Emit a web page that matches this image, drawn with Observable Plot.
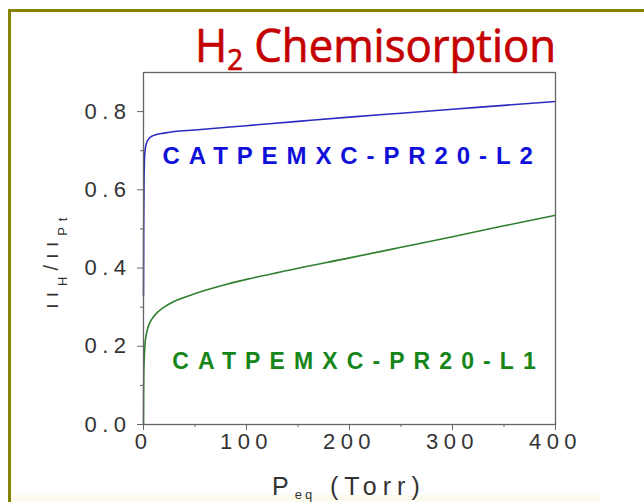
<!DOCTYPE html>
<html><head><meta charset="utf-8">
<script src="https://cdn.jsdelivr.net/npm/d3@7"></script>
<script src="https://cdn.jsdelivr.net/npm/@observablehq/plot@0.6"></script>
<style>
html,body{margin:0;padding:0;background:#fff;}
#wrap{position:relative;width:644px;height:502px;overflow:hidden;background:#fff;}
#border{position:absolute;left:8px;top:9px;right:-10px;bottom:-10px;border-top:3px solid #848400;border-left:3px solid #848400;pointer-events:none;}
#band{position:absolute;left:11px;top:495px;width:590px;height:7px;background:#fdfbee;}
#chart{position:absolute;left:0;top:0;}
</style></head><body>
<div id="wrap"><div id="band"></div><div id="chart"></div><div id="border"></div></div>
<script>
// Data
const pressureL2 = [0, 0.2, 0.5, 1, 1.5, 2, 3, 4, 6, 8, 12, 20, 30, 50, 100, 150, 200, 250, 300, 350, 400];
const ratioL2    = [0.33, 0.5, 0.62, 0.68, 0.70, 0.71, 0.72, 0.726, 0.733, 0.737, 0.741, 0.745, 0.749, 0.753, 0.764, 0.775, 0.786, 0.796, 0.806, 0.816, 0.826];
const pressureL1 = [0, 0.1, 0.3, 0.6, 1, 1.6, 2.5, 4, 6, 9, 14, 20, 30, 45, 60, 80, 100, 133, 200, 250, 300, 350, 400];
const ratioL1    = [0.0, 0.08, 0.13, 0.16, 0.185, 0.21, 0.227, 0.245, 0.26, 0.273, 0.288, 0.30, 0.315, 0.33, 0.343, 0.358, 0.371, 0.39, 0.426, 0.453, 0.48, 0.508, 0.535];
const seriesNames = ["CATPEMXC-PR20-L2", "CATPEMXC-PR20-L1"];
const labelP = [18.4, 27.9];
const labelRatio = [0.6865, 0.161];
const xMajorTicks = [0, 100, 200, 300, 400];
const xMinorTicks = [50, 150, 250, 350];
const yMajorTicks = [0.0, 0.2, 0.4, 0.6, 0.8];
const yMinorTicks = [0.1, 0.3, 0.5, 0.7];
const titleText = "H₂ Chemisorption";

const l2 = pressureL2.map((p, i) => ({p, v: ratioL2[i]}));
const l1 = pressureL1.map((p, i) => ({p, v: ratioL1[i]}));

const FONT = "'Liberation Sans', Arial, Helvetica, sans-serif";
const BLUE_LINE = "#2b2bc4", GREEN_LINE = "#2f7f2f";
const BLUE_TXT = "#1010d8", GREEN_TXT = "#17861a";

const svg = Plot.plot({
  width: 644, height: 502,
  marginLeft: 143, marginRight: 89, marginTop: 72, marginBottom: 78,
  style: {background: "transparent", fontFamily: FONT},
  x: {domain: [0, 400]},
  y: {domain: [0, 0.9]},
  marks: [
    Plot.line(l1, {x: "p", y: "v", stroke: GREEN_LINE, strokeWidth: 1.6, curve: "monotone-x"}),
    Plot.line(l2, {x: "p", y: "v", stroke: BLUE_LINE, strokeWidth: 1.6, curve: "monotone-x"}),
    Plot.frame({stroke: "#646464", strokeWidth: 1.3}),
    Plot.axisX(xMajorTicks, {tickSize: 6, tickPadding: 3, stroke: "#666", fill: "#333", fontSize: 22, fontFamily: FONT, label: null, tickFormat: d3.format("d")}),
    Plot.axisX(xMinorTicks, {tickSize: 3, stroke: "#666", tickFormat: () => "", label: null}),
    Plot.axisY(yMajorTicks, {tickSize: 6, tickPadding: 6, stroke: "#666", fill: "#333", fontSize: 22, fontFamily: FONT, label: null, tickFormat: d3.format(".1f")}),
    Plot.axisY(yMinorTicks, {tickSize: 3, stroke: "#666", tickFormat: () => "", label: null}),
    Plot.text([0], {x: () => labelP[0], y: () => labelRatio[0], text: () => seriesNames[0], textAnchor: "start", fill: BLUE_TXT, fontSize: 24, fontWeight: "bold", fontFamily: FONT}),
    Plot.text([1], {x: () => labelP[1], y: () => labelRatio[1], text: () => seriesNames[1], textAnchor: "start", fill: GREEN_TXT, fontSize: 23, fontWeight: "bold", fontFamily: FONT})
  ]
});

const s = d3.select(svg);
s.selectAll('g[aria-label="x-axis tick label"], g[aria-label="y-axis tick label"]').attr("letter-spacing", "5.5px");
s.selectAll("text").filter(function() { return this.textContent === seriesNames[0]; }).attr("letter-spacing", "8.9px");
s.selectAll("text").filter(function() { return this.textContent === seriesNames[1]; }).attr("letter-spacing", "9.1px");

// Title
const t = s.append("text")
  .attr("x", 195).attr("y", 62)
  .attr("text-anchor", "start")
  .attr("fill", "#c40000").attr("stroke", "#c40000").attr("stroke-width", 0.7)
  .attr("font-family", "'Open Sans', 'Noto Sans', sans-serif")
  .attr("font-size", 46)
  .attr("textLength", 361).attr("lengthAdjust", "spacingAndGlyphs");
t.append("tspan").text(titleText[0]);
t.append("tspan").attr("dy", 8).attr("font-size", 29).text(titleText[1].replace("₂", "2"));
t.append("tspan").attr("dy", -8).text(titleText.slice(2));

// x axis label
const xl = s.append("text").attr("x", 272).attr("y", 495).attr("text-anchor", "start")
  .attr("fill", "#333").attr("font-family", FONT).attr("font-size", 25).attr("letter-spacing", "6px");
xl.append("tspan").text("P");
xl.append("tspan").attr("dy", 4).attr("font-size", 13).attr("letter-spacing", "3px").text("eq");
xl.append("tspan").attr("x", 330).attr("dy", -4).text("(Torr)");

// y axis label
const yl = s.append("text").attr("transform", "translate(58,309) rotate(-90)").attr("text-anchor", "start")
  .attr("fill", "#333").attr("font-family", FONT).attr("font-size", 20).attr("letter-spacing", "6px");
yl.append("tspan").text("ıı");
yl.append("tspan").attr("dy", 9).attr("font-size", 13).text("H");
yl.append("tspan").attr("dy", -9).text("/ıı");
yl.append("tspan").attr("dy", 9).attr("font-size", 13).text("Pt");

document.getElementById("chart").appendChild(svg);
</script>
</body></html>
